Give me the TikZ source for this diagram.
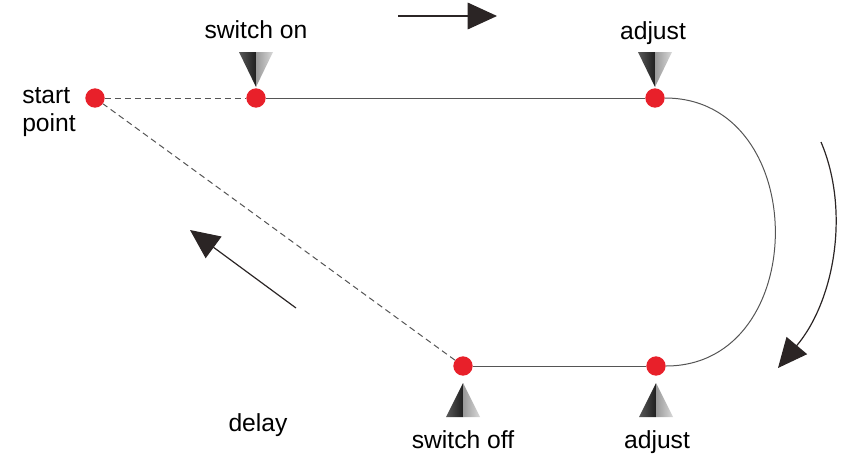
\documentclass[tikz,border=0pt]{standalone}
\usepackage{fontspec}
\setmainfont{Liberation Sans}
\usetikzlibrary{arrows.meta, positioning}
\definecolor{dotred}{HTML}{E8202A}
\definecolor{arrowdark}{HTML}{2B2525}
\definecolor{linegray}{HTML}{555555}

\begin{document}
\begin{tikzpicture}[
		x=0.75pt, y=-0.75pt,
		font=\fontsize{18.5}{21}\selectfont,
		dot/.style={circle, fill=dotred, minimum size=14.5pt, inner sep=0pt},
		lbl/.style={inner sep=0pt, align=left},
		track/.style={draw=linegray, line width=0.75pt},
		back/.style={draw=linegray, line width=0.75pt, dash pattern=on 4.5pt off 3pt},
		bigarrow/.style={-{Triangle[length=22pt, width=20pt]}, draw=arrowdark, line width=0.9pt},
		marker down/.pic={
			\shade[left color=black!65, right color=black!88] (-17,-46) -- (0,-46) -- (0,-11) -- cycle;
			\shade[left color=black!40, right color=black!15] (0,-46) -- (17,-46) -- (0,-11) -- cycle;
		},
		marker up/.pic={
			\shade[left color=black!65, right color=black!88] (-17,51) -- (0,51) -- (0,17) -- cycle;
			\shade[left color=black!40, right color=black!15] (0,51) -- (17,51) -- (0,17) -- cycle;
		}
		]
		\useasboundingbox (0,0) rectangle (843,465);
		
		% 1. Puntos del recorrido
		\node[dot] (start) at (95,98) {};
		\node[dot] (swon) at (256,98) {};
		\node[dot] (adjtop) at (655,98) {};
		\node[dot] (adjbot) at (656,366) {};
		\node[dot] (swoff) at (463,366) {};
		
		% 2. Recorrido
		\draw[track] (swon) -- (adjtop);
		\draw[track] (adjtop) .. controls (812,98) and (812,366) .. (adjbot);
		\draw[track] (adjbot) -- (swoff);
		\draw[back] (swoff) -- (start);
		\draw[back] (start) -- (swon);
		
		% 3. Marcas y textos
		\pic at (swon) {marker down};
		\pic at (adjtop) {marker down};
		\pic at (swoff) {marker up};
		\pic at (adjbot) {marker up};
		\node[lbl, anchor=base] (lswon) at (256,38) {switch on};
		\node[lbl, anchor=base] (ladjtop) at (653,39) {adjust};
		\node[lbl, anchor=base] (lswoff) at (463,448) {switch off};
		\node[lbl, anchor=base] (ladjbot) at (657,448) {adjust};
		\node[lbl, anchor=west] (lstart) at (22,112) {start\\point};
		\node[lbl, anchor=base] (ldelay) at (258,431) {delay};
		
		% 4. Sentido de giro
		\coordinate (topa) at (398,16);
		\coordinate (topb) at (497,16);
		\coordinate (rga) at (821,142);
		\coordinate (rgb) at (778,368);
		\coordinate (dga) at (296,308);
		\coordinate (dgb) at (190,230);
		\draw[bigarrow] (topa) -- (topb);
		\draw[bigarrow] (rga) .. controls (850,210) and (835,300) .. (rgb);
		\draw[bigarrow] (dga) -- (dgb);
		
	\end{tikzpicture}
\end{document}
